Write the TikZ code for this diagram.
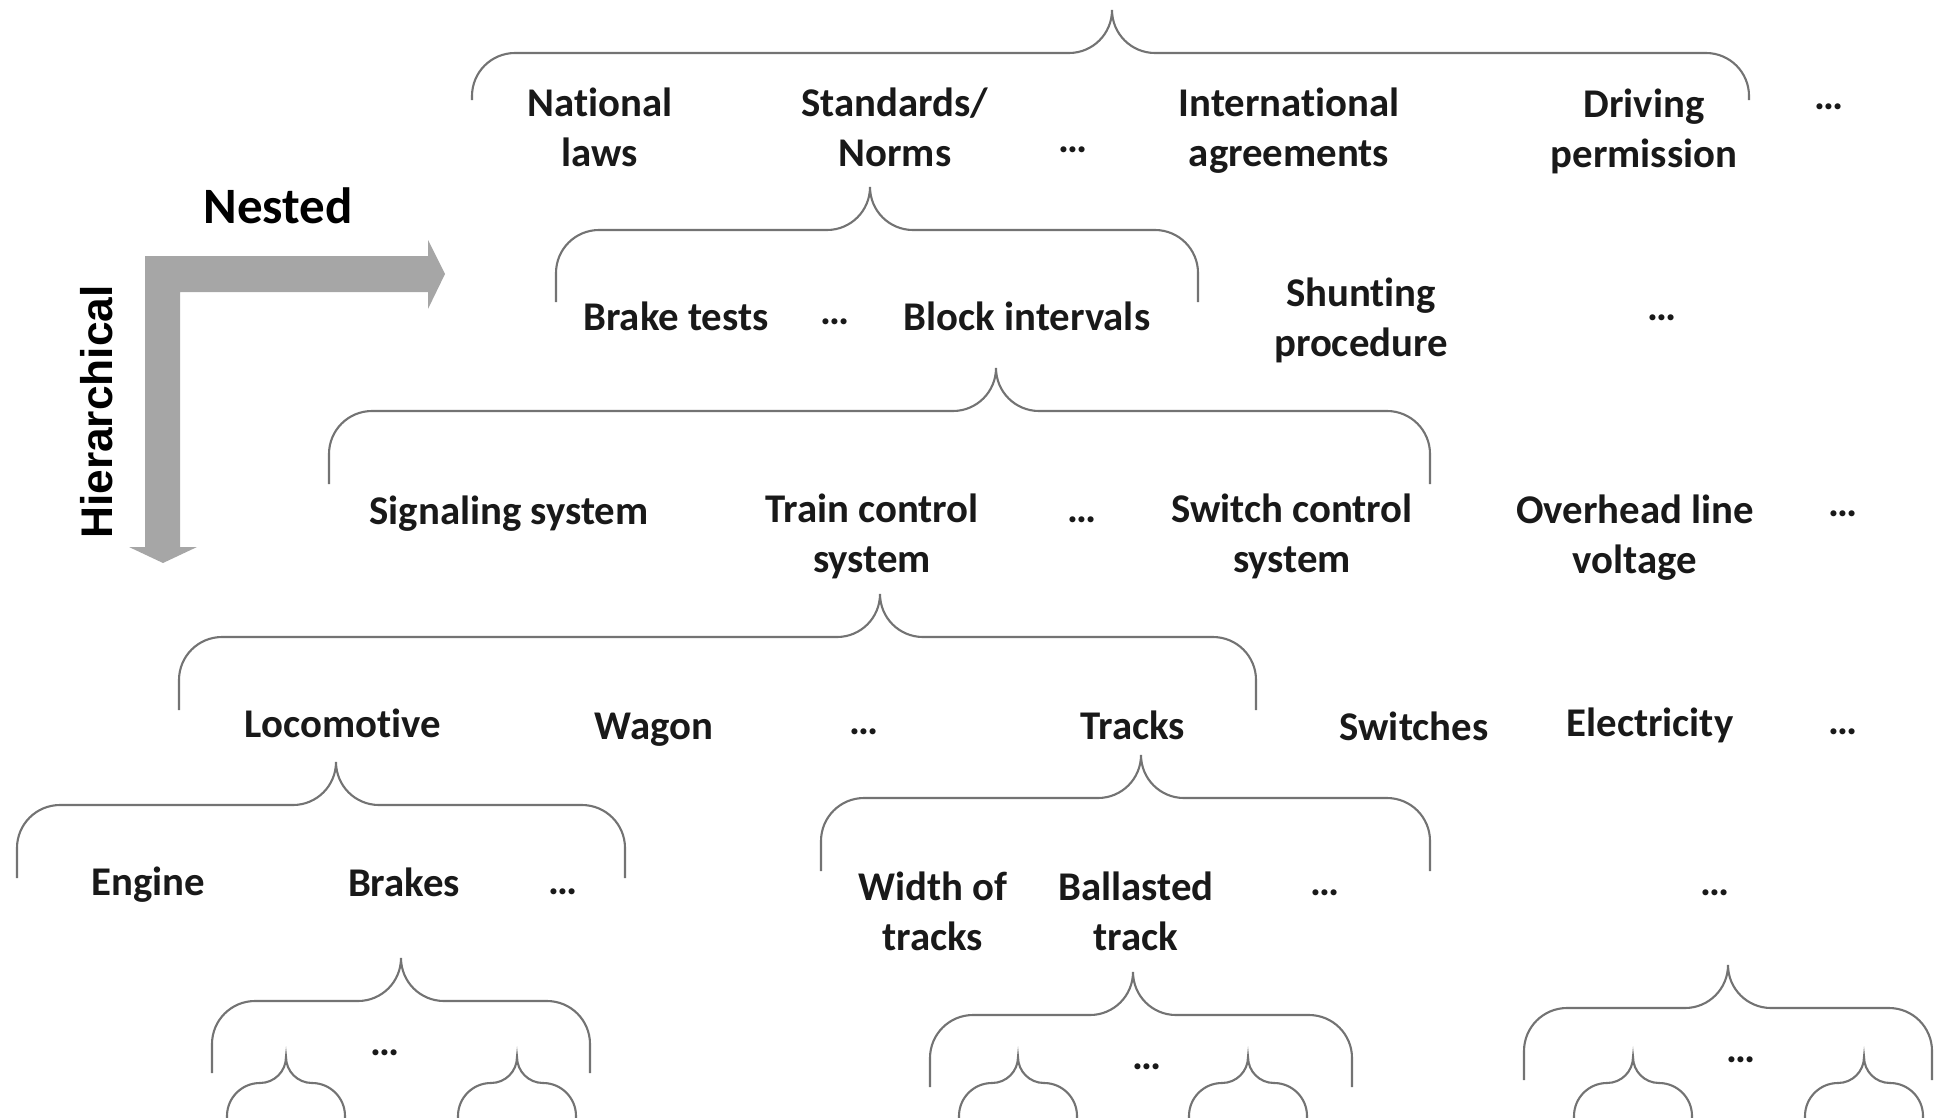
\documentclass[tikz,border=0pt]{standalone}
\usepackage{fontspec}
\setmainfont{Carlito}[Ligatures=NoCommon]
\newfontfamily\arialfont{Liberation Sans}
\usetikzlibrary{positioning}

% curly brace: tip x, tip y, left x, right x, bottom y
\newcommand{\groupbrace}[5]{%
  \draw[bracelines] (#3,#5) -- (#3,{#2+86}) arc[start angle=180,end angle=270,radius=43]
    -- ({#1-43},{#2+43}) arc[start angle=90,end angle=0,radius=43]
    arc[start angle=180,end angle=90,radius=43] -- ({#4-43},{#2+43})
    arc[start angle=270,end angle=360,radius=43] -- (#4,#5);}
% small brace at the lower edge: tip x
\newcommand{\smallbrace}[1]{%
  \draw[bracelines] ({#1-59},1130) -- ({#1-59},1116) arc[start angle=180,end angle=270,radius=33]
    arc[start angle=90,end angle=0,radius=26]
    arc[start angle=180,end angle=90,radius=26]
    arc[start angle=270,end angle=360,radius=33] -- ({#1+59},1130);}

\begin{document}
\begin{tikzpicture}[
    x=0.01cm, y=-0.01cm,
    item/.style={align=center, inner sep=0pt, text=black!90, font=\bfseries\fontsize{11.6}{14.2}\selectfont},
    axislabel/.style={inner sep=0pt, text=black},
    bracelines/.style={draw=black!55, line width=0.6pt},
    bigarrow/.style={fill=black!35, draw=none}
]
    \useasboundingbox (0,0) rectangle (1936,1118);
    \clip (0,0) rectangle (1936,1118);

    % axes
    \fill[bigarrow] (145,256) -- (428,256) -- (428,240) -- (445,274) -- (428,309) -- (428,292)
        -- (180,292) -- (180,547) -- (197,547) -- (163,563) -- (129,547) -- (145,547) -- cycle;
    \node[axislabel, font=\bfseries\fontsize{14.5}{17}\selectfont] (nested) at (278,206) {Nested};
    \node[axislabel, rotate=90, font=\arialfont\bfseries\fontsize{12.6}{15}\selectfont] (hier) at (97,412) {Hierarchical};

    % level 1
    \groupbrace{1112}{10}{472}{1749}{100}
    \node[item] (natlaws) at (600,127) {National\\laws};
    \node[item] (norms) at (895,127) {Standards/\\Norms};
    \node[item] (dots1a) at (1073,150) {…};
    \node[item] (intl) at (1289,131) {International\\agreements};
    \node[item] (driving) at (1644,131) {Driving\\permission};
    \node[item] (dots1b) at (1829,107) {…};

    % level 2
    \groupbrace{870}{187}{556}{1198}{302}
    \node[item] (braketests) at (676,316) {Brake tests};
    \node[item] (dots2a) at (835,322) {…};
    \node[item] (blockint) at (1027,316) {Block intervals};
    \node[item] (shunting) at (1361,320) {Shunting\\procedure};
    \node[item] (dots2b) at (1662,318) {…};

    % level 3
    \groupbrace{996}{368}{329}{1430}{484}
    \node[item] (signaling) at (509,514) {Signaling system};
    \node[item] (traincontrol) at (872,536) {Train control\\system};
    \node[item] (dots3a) at (1082,520) {…};
    \node[item] (switchcontrol) at (1292,536) {Switch control\\system};
    \node[item] (overhead) at (1635,538) {Overhead line\\voltage};
    \node[item] (dots3b) at (1843,514) {…};

    % level 4
    \groupbrace{880}{594}{179}{1256}{710}
    \node[item] (loco) at (343,723) {Locomotive};
    \node[item] (wagon) at (654,730) {Wagon};
    \node[item] (dots4a) at (864,732) {…};
    \node[item] (tracks) at (1133,725) {Tracks};
    \node[item] (switches) at (1414,726) {Switches};
    \node[item] (electricity) at (1650,725) {Electricity};
    \node[item] (dots4b) at (1843,732) {…};

    % level 5
    \groupbrace{336}{762}{17}{625}{878}
    \groupbrace{1141}{755}{821}{1430}{871}
    \node[item] (engine) at (148,885) {Engine};
    \node[item] (brakes) at (404,882) {Brakes};
    \node[item] (dots5a) at (563,892) {…};
    \node[item] (width) at (933,911) {Width of\\tracks};
    \node[item] (ballasted) at (1136,911) {Ballasted\\track};
    \node[item] (dots5b) at (1325,893) {…};
    \node[item] (dots5c) at (1715,893) {…};

    % level 6
    \groupbrace{401}{958}{212}{590}{1073}
    \groupbrace{1133}{972}{930}{1352}{1087}
    \groupbrace{1728}{965}{1524}{1932}{1080}
    \node[item] (dots6a) at (385,1053) {…};
    \node[item] (dots6b) at (1147,1067) {…};
    \node[item] (dots6c) at (1741,1060) {…};
    \foreach \tip in {286,517,1018,1248,1633,1864} {\smallbrace{\tip}}
\end{tikzpicture}
\end{document}
